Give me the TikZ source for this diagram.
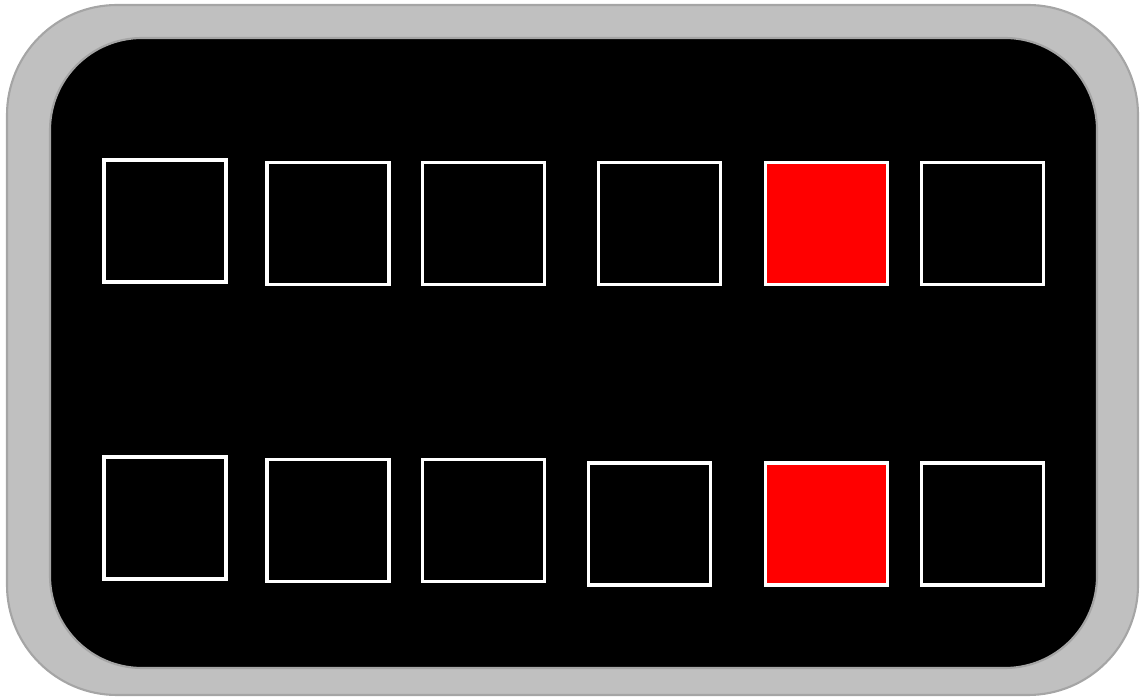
\documentclass[tikz,border=0pt]{standalone}
\usepackage{tikz}
\usepackage{xcolor}
\usetikzlibrary{positioning}
\definecolor{colFrame}{RGB}{192,192,192}
\definecolor{colEdge}{RGB}{165,165,165}
\definecolor{colLit}{RGB}{255,0,0}

\begin{document}
\begin{tikzpicture}[
  x=0.01cm, y=-0.01cm,
  cell/.style={rectangle, draw=white, line width=0.95pt, fill=black,
               minimum width=1.22cm, minimum height=1.22cm, inner sep=0pt},
  lit/.style={cell, fill=colLit},
]
\useasboundingbox (0,0) rectangle (1140,698);

% Housing
\draw[fill=colFrame, draw=colEdge, line width=0.6pt, rounded corners=1.1cm]
  (7,5) rectangle (1138,695);
\draw[fill=black, draw=colEdge, line width=0.6pt, rounded corners=0.92cm]
  (50,38) rectangle (1097,668);

% Upper row
\node[cell] (a1) at (165,221) {};
\node[cell] (a2) at (328,223.5) {};
\node[cell] (a3) at (483.5,223.5) {};
\node[cell] (a4) at (659.5,223.5) {};
\node[lit]  (a5) at (826.5,223.5) {};
\node[cell] (a6) at (982.5,223.5) {};

% Lower row
\node[cell] (b1) at (165,518) {};
\node[cell] (b2) at (328,520.5) {};
\node[cell] (b3) at (483.5,520.5) {};
\node[cell] (b4) at (649.5,524) {};
\node[lit]  (b5) at (826.5,524) {};
\node[cell] (b6) at (982.5,524) {};

\end{tikzpicture}
\end{document}
